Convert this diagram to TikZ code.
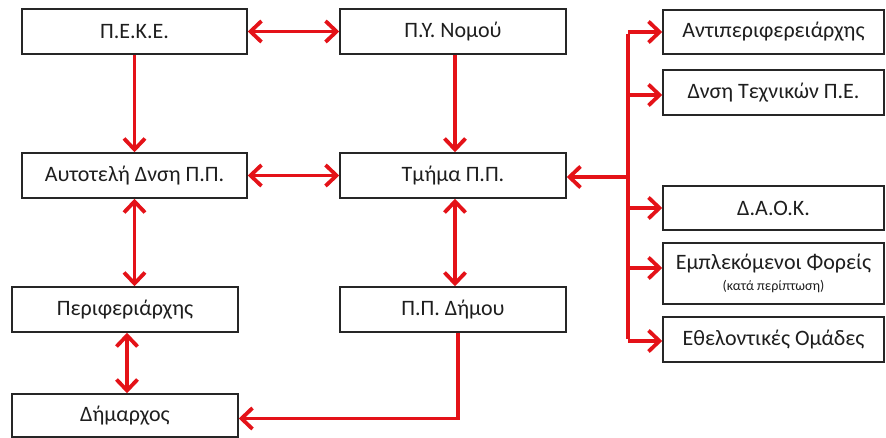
\documentclass[tikz,border=0pt]{standalone}
\usepackage{fontspec}
\setmainfont{Carlito}
\usetikzlibrary{arrows.meta}
\definecolor{arrred}{RGB}{228,18,24}
\definecolor{txt}{RGB}{30,30,30}
\begin{document}
\begin{tikzpicture}[x=1pt,y=-1pt,
  box/.style={draw=black!85,line width=1.5pt,rectangle,minimum height=45pt,inner sep=0pt,
    text=txt,font=\fontsize{22}{25}\selectfont,align=center},
  wl/.style={box,minimum width=225pt},
  wr/.style={box,minimum width=221pt},
  conn/.style={draw=arrred,line width=3.8pt,-{Straight Barb[length=11pt,width=21pt,line width=3.8pt]}},
  dconn/.style={draw=arrred,line width=3.8pt,{Straight Barb[length=11pt,width=21pt,line width=3.8pt]}-{Straight Barb[length=11pt,width=21pt,line width=3.8pt]}},
  trunk/.style={draw=arrred,line width=3.8pt}]
\useasboundingbox (0,0) rectangle (886,438);
\node[wl] (peke) at (134.5,31.5) {Π.Ε.Κ.Ε.};
\node[wl,minimum width=226pt] (py) at (453,31.5) {Π.Υ. Νομού};
\node[wl] (aut) at (134.5,175.5) {Αυτοτελή Δνση Π.Π.};
\node[wl,minimum width=226pt] (tm) at (453,175.5) {Τμήμα Π.Π.};
\node[wl,minimum width=226pt] (per) at (125,309.5) {Περιφεριάρχης};
\node[wl,minimum width=226pt] (ppd) at (453,309.5) {Π.Π. Δήμου};
\node[wl,minimum width=226pt,minimum height=43pt] (dim) at (125,415.5) {Δήμαρχος};
\node[wr,minimum height=44pt] (ant) at (773.5,32) {Αντιπεριφερειάρχης};
\node[wr] (dns) at (773.5,92.5) {Δνση Τεχνικών Π.Ε.};
\node[wr,minimum height=44pt] (daok) at (773.5,208) {Δ.Α.Ο.Κ.};
\node[wr,minimum height=61pt] (emp) at (773.5,273.5) {Εμπλεκόμενοι Φορείς\\[-4pt]{\fontsize{14}{16}\selectfont (κατά περίπτωση)}};
\node[wr] (eth) at (773.5,339.5) {Εθελοντικές Ομάδες};
% left / middle connectors
\draw[dconn] (peke.east) -- (py.west);
\draw[conn] (peke.south) -- (aut.north);
\draw[conn] ([xshift=2pt]py.south) -- ([xshift=2pt]tm.north);
\draw[dconn] (aut.east) -- (tm.west);
\draw[dconn] (aut.south) -- (aut.south |- per.north);
\draw[dconn] ([xshift=2pt]tm.south) -- ([xshift=2pt]ppd.north);
\draw[dconn] ([xshift=2pt]per.south) -- ([xshift=2pt]dim.north);
\draw[conn] ([xshift=5pt]ppd.south) |- ([yshift=-3pt]dim.east);
% trunk on the right
\coordinate (tt) at (628,32);
\coordinate (tb) at (628,341);
\draw[trunk] ([yshift=-1.9pt]tt) -- ([yshift=1.9pt]tb);
\draw[conn] (tt) -- (ant.west);
\draw[conn] (628,95) -- (dns.west |- 0,95);
\draw[conn] (628,177) -- (tm.east |- 0,177);
\draw[conn] (628,208) -- (daok.west);
\draw[conn] (628,268) -- (emp.west |- 0,268);
\draw[conn] (tb) -- (eth.west |- tb);
\end{tikzpicture}
\end{document}
